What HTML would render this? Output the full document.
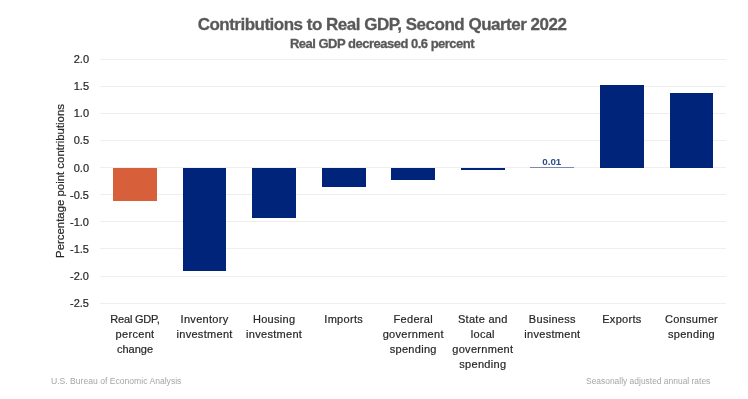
<!DOCTYPE html>
<html><head><meta charset="utf-8"><style>
html,body{margin:0;padding:0;background:#fff;}
body{width:748px;height:399px;position:relative;overflow:hidden;will-change:transform;font-family:"Liberation Sans",sans-serif;}
.t{position:absolute;left:0;width:764px;text-align:center;color:#595959;font-weight:bold;-webkit-text-stroke:0.3px #595959;white-space:nowrap;}
.g{position:absolute;left:100px;width:626px;height:1px;background:#eeeeee;}
.yt{position:absolute;left:40px;width:49px;text-align:right;font-size:11px;line-height:14px;color:#262626;-webkit-text-stroke:0.2px #262626;}
.b{position:absolute;}
.xl{position:absolute;top:312px;width:80px;text-align:center;font-size:11px;line-height:15px;letter-spacing:0.3px;color:#262626;-webkit-text-stroke:0.2px #262626;}
.ft{position:absolute;font-size:8.6px;color:#a6a6a6;white-space:nowrap;}
</style></head><body>
<div class="t" style="top:14.5px;font-size:17px;line-height:20px;letter-spacing:-0.5px">Contributions to Real GDP, Second Quarter 2022</div>
<div class="t" style="top:36px;font-size:13px;line-height:16px;letter-spacing:-0.5px">Real GDP decreased 0.6 percent</div>
<div class="g" style="top:58.66px"></div><div class="yt" style="top:52.16px">2.0</div><div class="g" style="top:85.77px"></div><div class="yt" style="top:79.27px">1.5</div><div class="g" style="top:112.88px"></div><div class="yt" style="top:106.38px">1.0</div><div class="g" style="top:139.99px"></div><div class="yt" style="top:133.49px">0.5</div><div class="g" style="top:167.10px"></div><div class="yt" style="top:160.60px">0.0</div><div class="g" style="top:194.21px"></div><div class="yt" style="top:187.71px">-0.5</div><div class="g" style="top:221.32px"></div><div class="yt" style="top:214.82px">-1.0</div><div class="g" style="top:248.43px"></div><div class="yt" style="top:241.93px">-1.5</div><div class="g" style="top:275.54px"></div><div class="yt" style="top:269.04px">-2.0</div><div class="g" style="top:302.65px"></div><div class="yt" style="top:296.15px">-2.5</div><div class="b" style="left:113.13px;top:167.60px;width:43.8px;height:32.91px;background:#d7603a"></div><div class="xl" style="left:95.03px"><span style="letter-spacing:-0.2px">Real GDP,</span><br>percent<br><span style="letter-spacing:0px">change</span></div><div class="b" style="left:182.68px;top:167.60px;width:43.8px;height:103.56px;background:#00247a"></div><div class="xl" style="left:164.58px">Inventory<br>investment</div><div class="b" style="left:252.24px;top:167.60px;width:43.8px;height:50.42px;background:#00247a"></div><div class="xl" style="left:234.14px">Housing<br>investment</div><div class="b" style="left:321.79px;top:167.60px;width:43.8px;height:19.25px;background:#00247a"></div><div class="xl" style="left:303.69px">Imports</div><div class="b" style="left:391.35px;top:167.60px;width:43.8px;height:12.20px;background:#00247a"></div><div class="xl" style="left:373.25px">Federal<br>government<br>spending</div><div class="b" style="left:460.91px;top:167.60px;width:43.8px;height:2.71px;background:#00247a"></div><div class="xl" style="left:442.81px">State and<br>local<br>government<br>spending</div><div class="b" style="left:530.46px;top:167.06px;width:43.8px;height:0.60px;background:#00247a;opacity:.5"></div><div class="xl" style="left:512.36px">Business<br>investment</div><div class="b" style="left:600.02px;top:85.46px;width:43.8px;height:82.14px;background:#00247a"></div><div class="xl" style="left:581.92px">Exports</div><div class="b" style="left:669.57px;top:92.51px;width:43.8px;height:75.09px;background:#00247a"></div><div class="xl" style="left:651.47px">Consumer<br>spending</div>
<div style="position:absolute;left:529.8px;top:156.4px;width:44px;text-align:center;font-size:9.8px;font-weight:bold;color:#2c4d8a;line-height:12px">0.01</div>
<div style="position:absolute;left:-17px;top:173.6px;width:154px;height:14px;transform:rotate(-90deg);transform-origin:77px 7px;text-align:center;font-size:11.4px;line-height:14px;color:#262626;-webkit-text-stroke:0.2px #262626;white-space:nowrap">Percentage point contributions</div>
<div class="ft" style="left:51px;top:376.2px">U.S. Bureau of Economic Analysis</div>
<div class="ft" style="left:586px;top:376.2px;font-size:8.45px">Seasonally adjusted annual rates</div>
</body></html>
